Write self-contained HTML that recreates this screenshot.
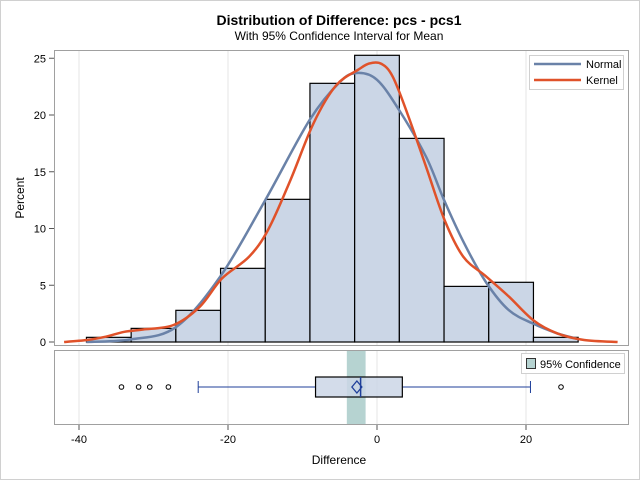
<!DOCTYPE html>
<html><head><meta charset="utf-8"><style>
body{margin:0;background:#fff}
svg{display:block;font-family:"Liberation Sans",sans-serif}
</style></head><body>
<svg id="chart" width="640" height="480" viewBox="0 0 640 480">
<rect x="0.5" y="0.5" width="639" height="479" fill="#fff" stroke="#d0d0d0"/>
<text x="339" y="25" text-anchor="middle" font-size="14" font-weight="bold">Distribution of Difference: pcs - pcs1</text>
<text x="339" y="40" text-anchor="middle" font-size="12">With 95% Confidence Interval for Mean</text>
<text transform="translate(24,198) rotate(-90)" text-anchor="middle" font-size="12">Percent</text>
<text x="339" y="464" text-anchor="middle" font-size="12">Difference</text>
<g id="grid"></g>
<g id="bars"></g>
<g id="curves"></g>
<g id="box"></g>
<g id="axes"></g>
<rect x="54.5" y="50.5" width="574" height="295" fill="none" stroke="#a0a0a0"/>
<rect x="54.5" y="350.5" width="574" height="74" fill="none" stroke="#a0a0a0"/>
<g>
<rect x="529.5" y="55.5" width="94" height="34" fill="#fff" stroke="#d0d0d0"/>
<line x1="534" y1="64" x2="581" y2="64" stroke="#6a82a8" stroke-width="2.5"/>
<text x="586" y="68" font-size="11">Normal</text>
<line x1="534" y1="80" x2="581" y2="80" stroke="#e0522a" stroke-width="2.5"/>
<text x="586" y="84" font-size="11">Kernel</text>
</g>
<g>
<rect x="521.5" y="353.5" width="103" height="20" fill="#fff" stroke="#d0d0d0"/>
<rect x="526.5" y="358.5" width="9" height="10" fill="#b6d3d1" stroke="#333"/>
<text x="540" y="368" font-size="11">95% Confidence</text>
</g>
</svg>
<script>
const binStarts=[-39,-33,-27,-21,-15,-9,-3,3,9,15,21];
const binWidth=6;
const binPercents=[0.41,1.2,2.79,6.49,12.57,22.79,25.26,17.94,4.9,5.26,0.41];
const normalX=[-39,-33,-27,-21,-15,-9,-5,-2.7,0,3,6.6,9,11.7,14.7,17.7,21,24.2,26.8];
const normalY=[0,0.23,1.3,5.8,12.5,19.6,22.9,23.7,23.1,20.4,16.3,12.5,8.7,5.2,2.8,1.6,0.76,0.3];
const kernelX=[-42,-38.9,-36.4,-33.9,-31.4,-27.3,-23.8,-20.8,-17.2,-14.6,-11.6,-8.5,-5.5,-2.5,-1,0.6,2.1,4.1,6.6,9.1,11.6,14.6,17.7,21,24.2,27.8,32.3];
const kernelY=[0,0.18,0.47,0.9,1.1,1.5,3.1,5.6,7.5,9.9,14.3,19.3,22.6,24.0,24.55,24.5,23.4,20.1,15.4,10.7,7.5,5.8,4.0,1.9,0.76,0.18,0];
const xTicks=[-40,-20,0,20];
const yTicks=[0,5,10,15,20,25];
const boxStats={q1:-8.25,median:-2.2,q3:3.4,mean:-2.7,whiskerLow:-24.0,whiskerHigh:20.6};
const outliers=[-34.3,-32,-30.5,-28,24.7];
const ciRange=[-4.05,-1.53];

const NS="http://www.w3.org/2000/svg";
const xs=v=>377+v*7.45;
const ys=v=>342-v*11.35;
function mk(parent,tag,attrs){const e=document.createElementNS(NS,tag);for(const k in attrs)e.setAttribute(k,attrs[k]);document.getElementById(parent).appendChild(e);return e;}

xTicks.forEach(t=>{
  let g=mk('grid','line',{x1:xs(t),x2:xs(t),y1:51,y2:345,stroke:'#e4e4e4'});
  
  
  let g2=mk('grid','line',{x1:xs(t),x2:xs(t),y1:351,y2:424,stroke:'#e4e4e4'});
  
  
  let tk=mk('axes','line',{x1:xs(t),x2:xs(t),y1:425,y2:430,stroke:'#555'});
  
  
  let tl=mk('axes','text',{x:xs(t),y:443,'text-anchor':'middle','font-size':11});
  tl.textContent=t;
  
  
});
yTicks.forEach(t=>{
  let tk=mk('axes','line',{x1:49,x2:54,y1:ys(t),y2:ys(t),stroke:'#555'});
  
  
  let tl=mk('axes','text',{x:46,y:ys(t)+4,'text-anchor':'end','font-size':11});
  tl.textContent=t;
  
  
});
binStarts.forEach((b,i)=>{
  const x0=xs(b),x1=xs(b+binWidth);
  let r=mk('bars','rect',{x:x0,y:ys(binPercents[i]),width:x1-x0,height:ys(0)-ys(binPercents[i]),fill:'#cbd6e6',stroke:'#000','stroke-width':1.2});
  
  
});
function path(X,Y){
  const P=X.map((x,i)=>[xs(x),ys(Y[i])]);
  let d='M'+P[0][0].toFixed(1)+','+P[0][1].toFixed(1);
  for(let i=0;i<P.length-1;i++){
    const p0=P[Math.max(0,i-1)],p1=P[i],p2=P[i+1],p3=P[Math.min(P.length-1,i+2)];
    const c1=[p1[0]+(p2[0]-p0[0])/6,p1[1]+(p2[1]-p0[1])/6];
    const c2=[p2[0]-(p3[0]-p1[0])/6,p2[1]-(p3[1]-p1[1])/6];
    d+='C'+c1[0].toFixed(1)+','+c1[1].toFixed(1)+' '+c2[0].toFixed(1)+','+c2[1].toFixed(1)+' '+p2[0].toFixed(1)+','+p2[1].toFixed(1);
  }
  return d;
}
let pn=mk('curves','path',{d:path(normalX,normalY),fill:'none',stroke:'#6a82a8','stroke-width':2.5,'stroke-linejoin':'round'});


let pk=mk('curves','path',{d:path(kernelX,kernelY),fill:'none',stroke:'#e0522a','stroke-width':2.5,'stroke-linejoin':'round'});



const cy=387;
let ci=mk('box','rect',{x:xs(ciRange[0]),y:351,width:xs(ciRange[1])-xs(ciRange[0]),height:73,fill:'#b6d3d1'});


let w1=mk('box','line',{x1:xs(boxStats.whiskerLow),x2:xs(boxStats.q1),y1:cy,y2:cy,stroke:'#1f3f9a'});


let w2=mk('box','line',{x1:xs(boxStats.q3),x2:xs(boxStats.whiskerHigh),y1:cy,y2:cy,stroke:'#1f3f9a'});


[boxStats.whiskerLow,boxStats.whiskerHigh].forEach(v=>{
  let c=mk('box','line',{x1:xs(v),x2:xs(v),y1:cy-6,y2:cy+6,stroke:'#1f3f9a'});
  
  
});
let bx=mk('box','rect',{x:xs(boxStats.q1),y:cy-10,width:xs(boxStats.q3)-xs(boxStats.q1),height:20,fill:'#cbd6e6','fill-opacity':0.85,stroke:'#000','stroke-width':1.2});


let md=mk('box','line',{x1:xs(boxStats.median),x2:xs(boxStats.median),y1:cy-10,y2:cy+10,stroke:'#1f3f9a','stroke-width':1.5});


const mx=xs(boxStats.mean);
let dm=mk('box','path',{d:`M${mx-5},${cy}L${mx},${cy-6}L${mx+5},${cy}L${mx},${cy+6}Z`,fill:'none',stroke:'#1f3f9a','stroke-width':1.3});


outliers.forEach(v=>{
  let o=mk('box','circle',{cx:xs(v),cy:cy,r:2.3,fill:'none',stroke:'#000'});
  
  
});
</script>
</body></html>
